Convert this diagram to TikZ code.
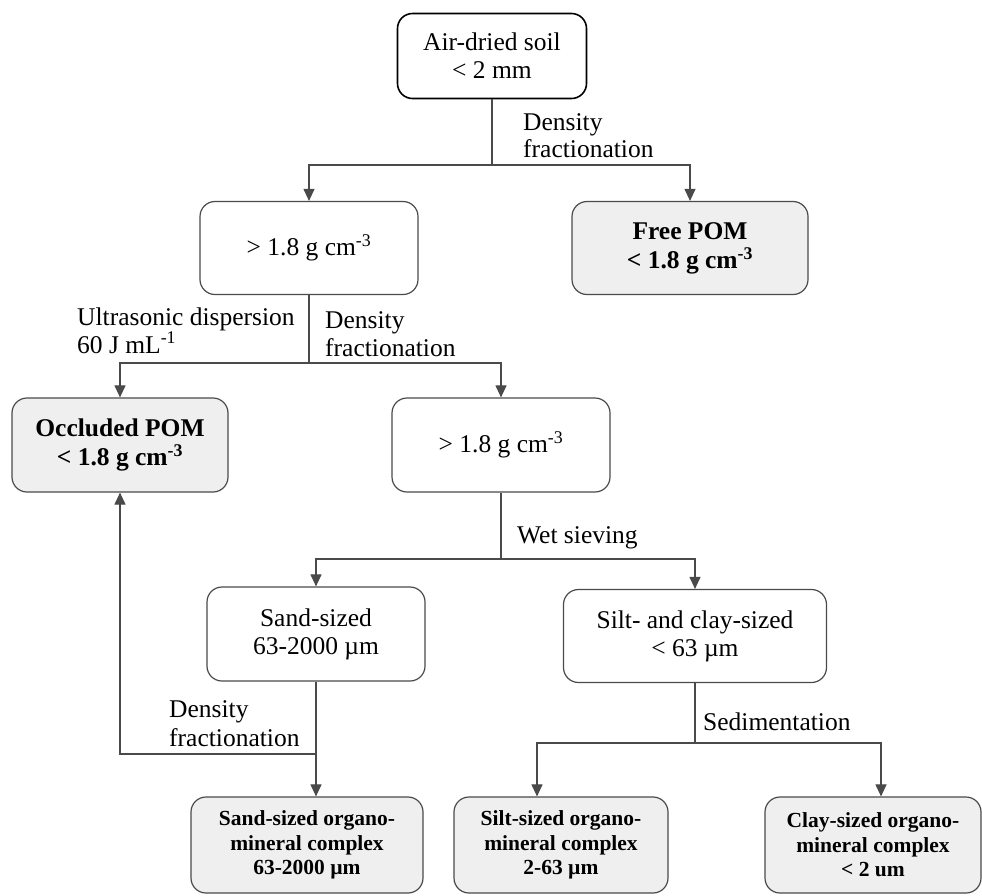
\documentclass[tikz,border=0pt]{standalone}
\usepackage{fontspec}
\setmainfont{Liberation Serif}
\usetikzlibrary{arrows.meta}
\definecolor{linegray}{HTML}{4A4A4A}
\definecolor{boxfill}{HTML}{EFEFEF}
\begin{document}
\begin{tikzpicture}[x=1pt,y=-1pt,
  box/.style={draw=linegray, line width=1.2pt, rounded corners=15pt, align=center, inner sep=2pt,
    font=\fontsize{25.5}{28}\selectfont},
  resbox/.style={box, fill=boxfill, font=\fontsize{21.5}{24.5}\selectfont\bfseries},
  bigres/.style={resbox, font=\fontsize{25.5}{29}\selectfont\bfseries},
  conn/.style={draw=linegray, line width=1.1pt},
  arr/.style={conn, -{Triangle[length=12pt,width=11pt]}},
  lbl/.style={anchor=base west, inner sep=0pt, font=\fontsize{25.5}{28}\selectfont}]
\useasboundingbox (0,0) rectangle (982,895);

% boxes
\node[box, minimum width=189pt, minimum height=85pt, line width=1.6pt, draw=black] (soil) at (492,56) {Air-dried soil\\< 2 mm};
\node[box, minimum width=218pt, minimum height=93pt] (d1) at (309,248) {> 1.8 g cm\textsuperscript{-3}};
\node[bigres, minimum width=236pt, minimum height=93pt] (free) at (690,248) {Free POM\\< 1.8 g cm\textsuperscript{-3}};
\node[bigres, minimum width=216pt, minimum height=94pt] (occl) at (120,445) {Occluded POM\\< 1.8 g cm\textsuperscript{-3}};
\node[box, minimum width=218pt, minimum height=94pt] (d2) at (501,445) {> 1.8 g cm\textsuperscript{-3}};
\node[box, minimum width=218pt, minimum height=94pt] (sand) at (316,634) {Sand-sized\\63-2000 µm};
\node[box, minimum width=263pt, minimum height=93pt] (silt) at (695,636) {Silt- and clay-sized\\< 63 µm};
\node[resbox, minimum width=232pt, minimum height=96pt] (bsand) at (307,845) {Sand-sized organo-\\mineral complex\\63-2000 µm};
\node[resbox, minimum width=214pt, minimum height=96pt] (bsilt) at (561,845) {Silt-sized organo-\\mineral complex\\2-63 µm};
\node[resbox, minimum width=216pt, minimum height=96pt] (bclay) at (873,845) {Clay-sized organo-\\mineral complex\\< 2 um};

% junctions
\coordinate (j1) at (492,165);
\coordinate (j2) at (309,363);
\coordinate (j3) at (501,559);
\coordinate (fb) at (316,754);
\coordinate (j5) at (695,743);
\coordinate (s5L) at (537,743);
\coordinate (s5R) at (881,743);

% connectors
\draw[conn] (soil) -- (j1);
\draw[arr] (j1) -| (d1);
\draw[arr] (j1) -| (free);
\draw[conn] (d1) -- (j2);
\draw[arr] (j2) -| (occl);
\draw[arr] (j2) -| (d2);
\draw[conn] (d2) -- (j3);
\draw[arr] (j3) -| (sand);
\draw[arr] (j3) -| (silt);
\draw[arr] (sand) -- (sand.south |- bsand.north);
\draw[arr] (fb) -| (occl.south);
\draw[conn] (silt) -- (j5);
\draw[arr] (j5) -- (s5L) -- (s5L |- bsilt.north);
\draw[arr] (j5) -- (s5R) -- (s5R |- bclay.north);

% labels
\node[lbl] (l1a) at (523,130) {Density};
\node[lbl] (l1b) at (523,157) {fractionation};
\node[lbl] (l2a) at (77,325) {Ultrasonic dispersion};
\node[lbl] (l2b) at (77,353) {60 J mL\textsuperscript{-1}};
\node[lbl] (l3a) at (325,328) {Density};
\node[lbl] (l3b) at (325,356) {fractionation};
\node[lbl] (l4) at (517,543) {Wet sieving};
\node[lbl] (l5a) at (169,717) {Density};
\node[lbl] (l5b) at (169,746) {fractionation};
\node[lbl] (l6) at (703,730) {Sedimentation};
\end{tikzpicture}
\end{document}
